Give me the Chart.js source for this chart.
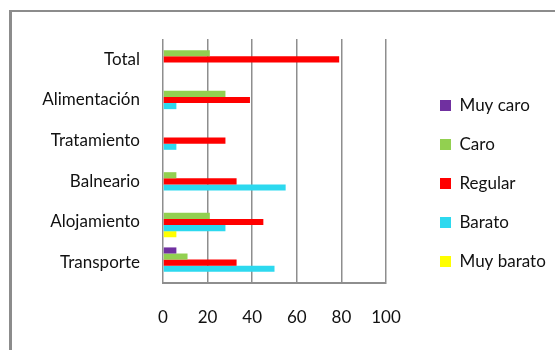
<!DOCTYPE html>
<html>
<head>
<meta charset="utf-8">
<script src="https://cdn.jsdelivr.net/npm/chart.js@4"></script>
<style>
  html, body { margin: 0; padding: 0; background: #fff; }
  #wrap { position: relative; width: 555px; height: 350px; overflow: hidden; }
  #frame { position: absolute; left: 9px; top: 10px; width: 600px; height: 400px;
           border-left: 3px solid #8c8c8c; border-top: 2px solid #8c8c8c; }
  canvas { position: absolute; left: 0; top: 0; }
</style>
</head>
<body>
<div id="wrap">
  <div id="frame"></div>
  <canvas id="chart" width="555" height="350"></canvas>
</div>
<script>
// datos
const categorias = ["Total", "Alimentación", "Tratamiento", "Balneario", "Alojamiento", "Transporte"];
const muyCaro = [0, 0, 0, 0, 0, 6];
const caro = [21, 28, 0, 6, 21, 11];
const regular = [79, 39, 28, 33, 45, 33];
const barato = [0, 6, 6, 55, 28, 50];
const muyBarato = [0, 0, 0, 0, 6, 0];
const ticksX = [0, 20, 40, 60, 80, 100];

Chart.defaults.font.family = "Lato, 'Noto Sans', sans-serif";
Chart.defaults.font.size = 17;
Chart.defaults.color = "#111";

// ancho fijo de la leyenda
const anchoLeyenda = {
  id: "anchoLeyenda",
  beforeInit(chart) {
    const fit = chart.legend.fit;
    chart.legend.fit = function () {
      fit.call(this);
      this.width = 137;
    };
  },
};

new Chart(document.getElementById("chart"), {
  type: "bar",
  data: {
    labels: categorias,
    datasets: [
      { label: "Muy caro", data: muyCaro, backgroundColor: "#7030a0" },
      { label: "Caro", data: caro, backgroundColor: "#92d050" },
      { label: "Regular", data: regular, backgroundColor: "#ff0000" },
      { label: "Barato", data: barato, backgroundColor: "#2dd9ef" },
      { label: "Muy barato", data: muyBarato, backgroundColor: "#ffff00" },
    ],
  },
  options: {
    indexAxis: "y",
    responsive: false,
    animation: false,
    datasets: { bar: { categoryPercentage: 0.75, barPercentage: 1, borderWidth: 0 } },
    layout: { padding: { left: 12, top: 39, right: 0, bottom: 22 } },
    scales: {
      x: {
        min: 0,
        max: 100,
        afterBuildTicks: (s) => { s.ticks = ticksX.map((v) => ({ value: v })); },
        grid: { color: "#8e8e8e", lineWidth: 1.5, drawTicks: false },
        border: { color: "#8e8e8e", width: 2 },
        ticks: { padding: 24 },
        afterFit: (s) => { s.height = 45; },
      },
      y: {
        grid: { display: false, drawTicks: false },
        border: { display: false },
        ticks: { padding: 23 },
        afterFit: (s) => { s.width = 151; },
      },
      hueco: {
        axis: "y",
        type: "linear",
        position: "right",
        grid: { display: false },
        border: { display: false },
        ticks: { display: false },
        afterFit: (s) => { s.width = 32; },
      },
    },
    plugins: {
      legend: {
        position: "right",
        align: "center",
        labels: { boxWidth: 11, boxHeight: 11, padding: 22 },
      },
      tooltip: { enabled: false },
    },
  },
  plugins: [anchoLeyenda],
});
</script>
</body>
</html>
